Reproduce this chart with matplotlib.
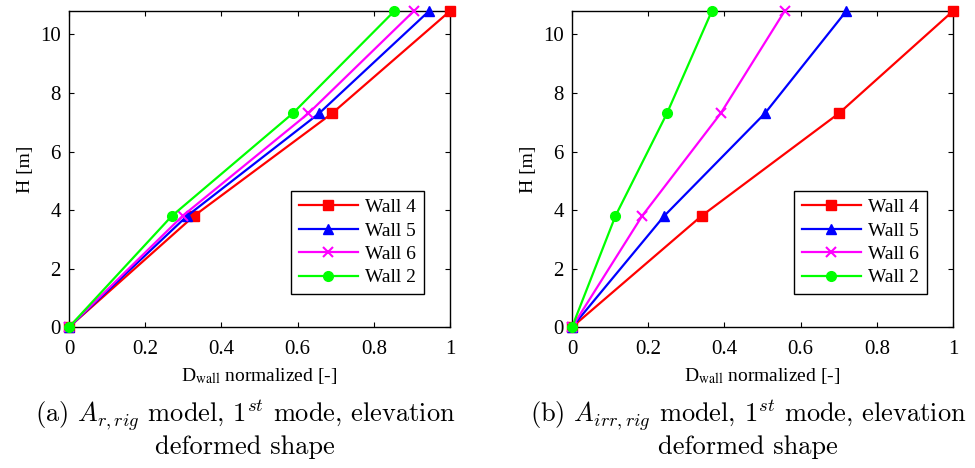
import numpy as np
import matplotlib
matplotlib.use("Agg")
import matplotlib.pyplot as plt

heights = [0, 3.8, 7.3, 10.8]
names = ["Wall 4", "Wall 5", "Wall 6", "Wall 2"]
colors = ["#ff0000", "#0000ff", "#ff00ff", "#00ff00"]
markers = ["s", "^", "x", "o"]

# (a) regular model
disp_a = [
    [0, 0.328, 0.69, 1.0],
    [0, 0.31, 0.656, 0.945],
    [0, 0.298, 0.628, 0.905],
    [0, 0.27, 0.587, 0.854],
]
# (b) irregular model
disp_b = [
    [0, 0.34, 0.70, 1.0],
    [0, 0.242, 0.506, 0.72],
    [0, 0.184, 0.39, 0.558],
    [0, 0.114, 0.249, 0.367],
]
xticks = [0, 0.2, 0.4, 0.6, 0.8, 1]
xticklabels = ["0", "0.2", "0.4", "0.6", "0.8", "1"]
yticks = [0, 2, 4, 6, 8, 10]
captions = [
    (r"(a) $A_{r,rig}$ model, 1$^{st}$ mode, elevation", "deformed shape"),
    (r"(b) $A_{irr,rig}$ model, 1$^{st}$ mode, elevation", "deformed shape"),
]

plt.rcParams["font.family"] = "Liberation Serif"
plt.rcParams["font.size"] = 14

fig = plt.figure(figsize=(9.75, 4.68), dpi=100)
positions = [[0.0708, 0.301, 0.3908, 0.6755], [0.5867, 0.301, 0.3908, 0.6755]]
cap_x = [0.251, 0.767]

for k, data in enumerate([disp_a, disp_b]):
    ax = fig.add_axes(positions[k])
    for i in range(4):
        ms = 7 if markers[i] != "x" else 6.5
        ax.plot(data[i], heights, color=colors[i], marker=markers[i], lw=1.6,
                ms=ms, mew=1.5 if markers[i] == "x" else 1.0,
                label=names[i], clip_on=False, zorder=3)
    ax.set_xlim(0, 1)
    ax.set_ylim(0, 10.8)
    ax.set_xticks(xticks)
    ax.set_xticklabels(xticklabels)
    ax.set_yticks(yticks)
    ax.tick_params(direction="in", top=True, right=True, length=3.5, width=0.8,
                   labelsize=15)
    ax.tick_params(axis="x", pad=9)
    ax.tick_params(axis="y", pad=6)
    for s in ax.spines.values():
        s.set_linewidth(1.0)
    ax.set_ylabel("H [m]", fontsize=14, labelpad=4)
    ax.set_xlabel(r"D$_{\rm wall}$ normalized [-]", fontsize=14, labelpad=5,
                  math_fontfamily="stix")
    leg = ax.legend(loc="lower right", bbox_to_anchor=(0.932, 0.104),
                    borderaxespad=0, handlelength=3.0, fancybox=False,
                    edgecolor="black", framealpha=1, fontsize=14,
                    labelspacing=0.3, handletextpad=0.4)
    leg.get_frame().set_linewidth(1.0)
    fig.text(cap_x[k], 0.115, captions[k][0], ha="center", va="center",
             fontsize=19, family="cmr10", math_fontfamily="cm")
    fig.text(cap_x[k], 0.045, captions[k][1], ha="center", va="center",
             fontsize=19, family="cmr10", math_fontfamily="cm")

fig.savefig("out.png", dpi=100)
